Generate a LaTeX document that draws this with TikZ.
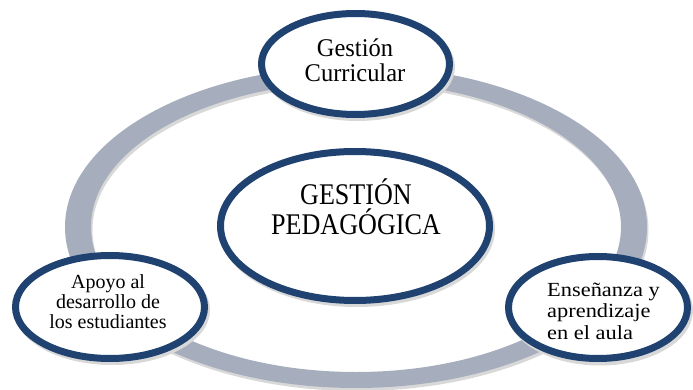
\documentclass[tikz,border=0pt]{standalone}
\usepackage{fontspec}
\setmainfont{Liberation Serif}
\usetikzlibrary{shapes.geometric}
\definecolor{ringgray}{HTML}{A6ADBD}
\definecolor{bordblue}{HTML}{1F4270}
\definecolor{shadowgray}{HTML}{D8D8D8}
\begin{document}
\begin{tikzpicture}[x=1pt,y=-1pt,
  bubble/.style={ellipse, draw=bordblue, line width=7pt, fill=white, inner sep=0pt, outer sep=0pt},
  label/.style={inner sep=0pt, align=center, text=black},
  shadowfill/.style={fill=shadowgray}]
\useasboundingbox[fill=white] (0,0) rectangle (693,390);
% ring with its shadow
\fill[shadowgray,even odd rule] (357.5,230) ellipse [x radius=291pt, y radius=161pt]
                                (357.5,230) ellipse [x radius=265pt, y radius=145pt];
\fill[ringgray,even odd rule] (356,227) ellipse [x radius=291pt, y radius=161pt]
                              (356,227) ellipse [x radius=265pt, y radius=145pt];
% shadows of the ellipses
\fill[shadowfill] (357.5,67) ellipse [x radius=97.5pt, y radius=54pt];
\fill[shadowfill] (357,229) ellipse [x radius=138pt, y radius=78pt];
\fill[shadowfill] (112,310) ellipse [x radius=98pt, y radius=55pt];
\fill[shadowfill] (600,310.5) ellipse [x radius=93pt, y radius=55pt];
% ellipses
\node[bubble, minimum width=188pt, minimum height=101pt] (gc) at (355.5,64) {};
\node[bubble, minimum width=269pt, minimum height=149pt] (gp) at (355,226) {};
\node[bubble, minimum width=189pt, minimum height=103pt] (ad) at (110,307) {};
\node[bubble, minimum width=179pt, minimum height=102pt] (ea) at (598,307.5) {};
% texts
\node[label, font=\fontsize{25.5}{25}\selectfont\addfontfeatures{FakeStretch=0.96}] (gct) at (355,60) {Gestión\\Curricular};
\node[label, font=\fontsize{30}{30}\selectfont\addfontfeatures{FakeStretch=0.87}] (gpt) at (356,207) {GESTIÓN\\PEDAGÓGICA};
\node[label, font=\fontsize{20}{20}\selectfont] (adt) at (108,302) {Apoyo al\\desarrollo de\\los estudiantes};
\node[label, align=left, anchor=west, font=\fontsize{20}{21.5}\selectfont\addfontfeatures{FakeStretch=1.12}] (eat) at (547,311) {Enseñanza y\\aprendizaje\\en el aula};
\end{tikzpicture}
\end{document}
